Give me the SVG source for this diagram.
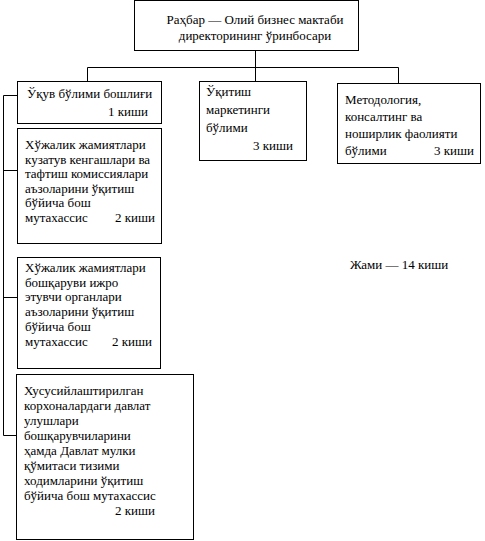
<svg xmlns="http://www.w3.org/2000/svg" width="485" height="541" viewBox="0 0 485 541">
<style>
rect{fill:#fff;stroke:#000;stroke-width:1}
line{stroke:#000;stroke-width:1}
text{font-family:"Liberation Serif","Times New Roman",serif;font-size:13px;fill:#000}
.e{text-anchor:end}
.m{text-anchor:middle}
</style>
<rect x="0" y="0" width="485" height="541" style="stroke:none"/>
<g id="connectors">
<line x1="255.5" y1="51" x2="255.5" y2="67.5"/>
<line x1="87.5" y1="67.5" x2="398.5" y2="67.5"/>
<line x1="87.5" y1="67.5" x2="87.5" y2="81.5"/>
<line x1="255.5" y1="67.5" x2="255.5" y2="81.5"/>
<line x1="398.5" y1="67.5" x2="398.5" y2="83.5"/>
<line x1="3.5" y1="95.5" x2="3.5" y2="435.5"/>
<line x1="3.5" y1="95.5" x2="17.5" y2="95.5"/>
<line x1="3.5" y1="170.5" x2="17.5" y2="170.5"/>
<line x1="3.5" y1="297.5" x2="17.5" y2="297.5"/>
<line x1="3.5" y1="435.5" x2="16.5" y2="435.5"/>
</g>
<g id="head">
<rect x="134.5" y="0.5" width="224" height="50"/>
<text class="m" x="255" y="24">Раҳбар — Олий бизнес мактаби</text>
<text class="m" x="255" y="40">директорининг ўринбосари</text>
</g>
<g id="n1">
<rect x="17.5" y="81.5" width="144" height="42"/>
<text x="27" y="98">Ўқув бўлими бошлиғи</text>
<text class="e" x="148" y="116">1 киши</text>
</g>
<g id="n2">
<rect x="199.5" y="81.5" width="107" height="79"/>
<text x="206" y="96">Ўқитиш</text>
<text x="206" y="114">маркетинги</text>
<text x="206" y="132">бўлими</text>
<text class="e" x="293" y="150">3 киши</text>
</g>
<g id="n3">
<rect x="337.5" y="83.5" width="143" height="80"/>
<text x="345" y="104">Методология,</text>
<text x="345" y="121">консалтинг ва</text>
<text x="345" y="138">ноширлик фаолияти</text>
<text x="345" y="155">бўлими</text>
<text class="e" x="474" y="155">3 киши</text>
</g>
<g id="n4">
<rect x="17.5" y="128.5" width="144" height="115"/>
<text x="25" y="149">Хўжалик жамиятлари</text>
<text x="25" y="163.5">кузатув кенгашлари ва</text>
<text x="25" y="178">тафтиш комиссиялари</text>
<text x="25" y="192.5">аъзоларини ўқитиш</text>
<text x="25" y="207">бўйича бош</text>
<text x="25" y="221.5">мутахассис</text>
<text class="e" x="155" y="221.5">2 киши</text>
</g>
<g id="n5">
<rect x="17.5" y="257.5" width="143" height="111"/>
<text x="25" y="272">Хўжалик жамиятлари</text>
<text x="25" y="286.7">бошқаруви ижро</text>
<text x="25" y="301.4">этувчи органлари</text>
<text x="25" y="316.1">аъзоларини ўқитиш</text>
<text x="25" y="330.8">бўйича бош</text>
<text x="25" y="345.5">мутахассис</text>
<text class="e" x="152" y="345.5">2 киши</text>
</g>
<g id="n6">
<rect x="16.5" y="374.5" width="177" height="165"/>
<text x="24" y="395">Хусусийлаштирилган</text>
<text x="24" y="410">корхоналардаги давлат</text>
<text x="24" y="425">улушлари</text>
<text x="24" y="440">бошқарувчиларини</text>
<text x="24" y="455">ҳамда Давлат мулки</text>
<text x="24" y="470">қўмитаси тизими</text>
<text x="24" y="485">ходимларини ўқитиш</text>
<text x="24" y="500">бўйича бош мутахассис</text>
<text class="e" x="155" y="515">2 киши</text>
</g>
<g id="total">
<text x="350" y="269">Жами — 14 киши</text>
</g>
</svg>
